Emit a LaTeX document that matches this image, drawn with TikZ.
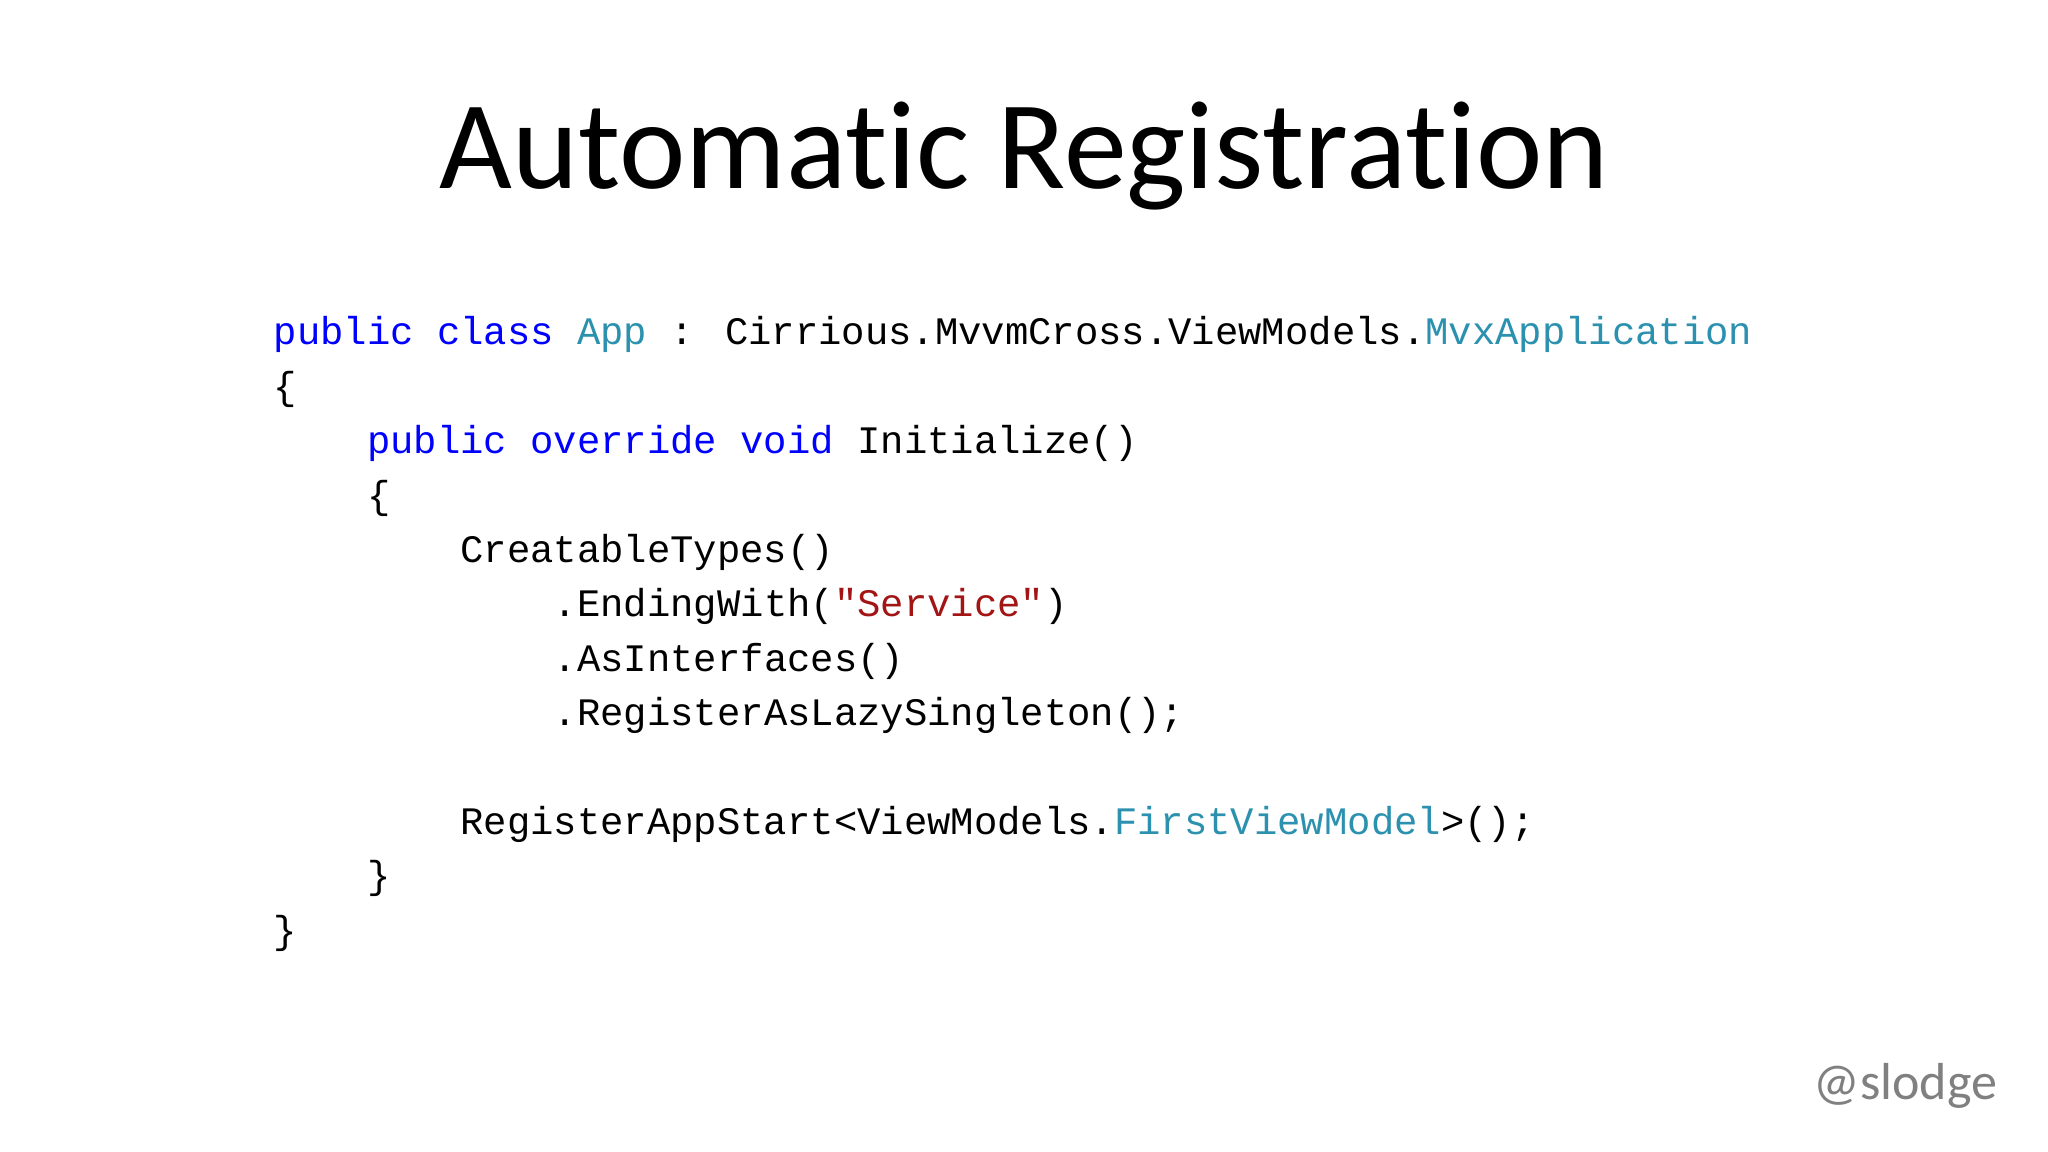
\documentclass[tikz,border=0pt]{standalone}
\usepackage{fontspec}
\setmainfont{Carlito}[RawFeature=-liga]
\newfontfamily\codefont{Liberation Mono}
\definecolor{kw}{RGB}{0,0,255}
\definecolor{ty}{RGB}{43,145,175}
\definecolor{st}{RGB}{163,21,21}
\definecolor{gr}{RGB}{128,128,128}
\begin{document}
\begin{tikzpicture}[x=1cm,y=1cm,
  code/.style={anchor=base west,inner sep=0pt,font=\codefont\fontsize{11.07}{13}\selectfont}]
\useasboundingbox[fill=white] (0,0) rectangle (20.48,11.52);
\node[anchor=base,inner sep=0pt,font=\fontsize{35.8}{38}\selectfont] (title) at (10.24,11.52-1.89) {Automatic Registration};
\def\bx{2.73}
\def\ch{0.2335}
\node[code] (l0) at (\bx,{11.52-3.45}) {\textcolor{kw}{public class} \textcolor{ty}{App} : Cirrious.MvvmCross.ViewModels.\textcolor{ty}{MvxApplication}};
\node[code] (l1) at (\bx,{11.52-3.45-1*0.544}) {\{};
\node[code] (l2) at ({\bx+4*\ch},{11.52-3.45-2*0.544}) {\textcolor{kw}{public override void} Initialize()};
\node[code] (l3) at ({\bx+4*\ch},{11.52-3.45-3*0.544}) {\{};
\node[code] (l4) at ({\bx+8*\ch},{11.52-3.45-4*0.544}) {CreatableTypes()};
\node[code] (l5) at ({\bx+12*\ch},{11.52-3.45-5*0.544}) {.EndingWith(\textcolor{st}{"Service"})};
\node[code] (l6) at ({\bx+12*\ch},{11.52-3.45-6*0.544}) {.AsInterfaces()};
\node[code] (l7) at ({\bx+12*\ch},{11.52-3.45-7*0.544}) {.RegisterAsLazySingleton();};
\node[code] (l9) at ({\bx+8*\ch},{11.52-3.45-9*0.544}) {RegisterAppStart<ViewModels.\textcolor{ty}{FirstViewModel}>();};
\node[code] (l10) at ({\bx+4*\ch},{11.52-3.45-10*0.544}) {\}};
\node[code] (l11) at (\bx,{11.52-3.45-11*0.544}) {\}};
\node[anchor=base east,inner sep=0pt,text=gr,font=\fontsize{14.8}{16}\selectfont] (sig) at (19.98,{11.52-11.0}) {@slodge};
\end{tikzpicture}
\end{document}
